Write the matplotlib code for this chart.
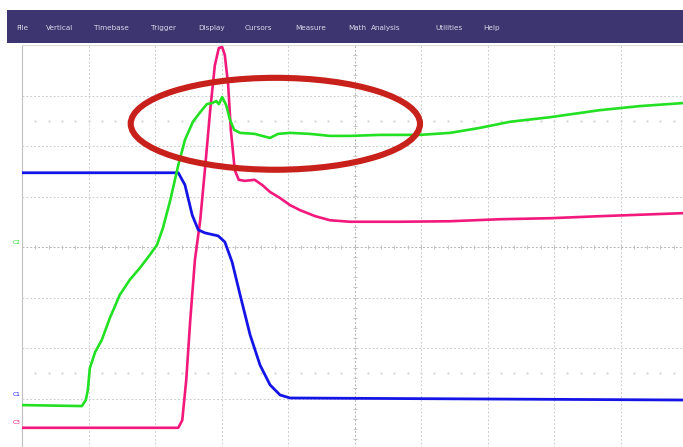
import numpy as np
import matplotlib
matplotlib.use("Agg")
import matplotlib.pyplot as plt
from matplotlib.patches import Rectangle, Ellipse

# ------------------ Scope capture (screen divisions) ------------------
MENU_ITEMS = ["File", "Vertical", "Timebase", "Trigger", "Display", "Cursors",
              "Measure", "Math", "Analysis", "Utilities", "Help"]
MENU_X_PX = [16, 46, 94, 151, 198, 245, 295, 348, 371, 435, 483]

# C1 (blue)
blue_t = [0.00, 2.35, 2.45, 2.56, 2.65, 2.75, 2.95, 3.05, 3.16, 3.28, 3.43,
          3.58, 3.73, 3.88, 4.03, 9.94]
blue_v = [5.47, 5.47, 5.23, 4.63, 4.34, 4.28, 4.22, 4.10, 3.70, 3.05, 2.26,
          1.66, 1.27, 1.07, 1.01, 0.97]

# C2 (green)
green_t = [0.00, 0.90, 0.96, 0.99, 1.02, 1.10, 1.20, 1.32, 1.47, 1.62, 1.77,
           1.92, 2.03, 2.12, 2.23, 2.35, 2.45, 2.57, 2.68, 2.78, 2.86, 2.92,
           2.96, 3.01, 3.07, 3.13, 3.19, 3.28, 3.50, 3.61, 3.73, 3.85, 4.03,
           4.33, 4.63, 4.93, 5.38, 5.98, 6.44, 6.89, 7.34, 7.94, 8.69, 9.29,
           9.94]
green_v = [0.87, 0.85, 0.97, 1.17, 1.60, 1.92, 2.16, 2.59, 3.05, 3.35, 3.58,
           3.84, 4.04, 4.38, 4.93, 5.62, 6.12, 6.48, 6.67, 6.83, 6.85, 6.89,
           6.83, 6.97, 6.81, 6.51, 6.32, 6.26, 6.24, 6.20, 6.16, 6.24, 6.26,
           6.24, 6.20, 6.20, 6.22, 6.22, 6.26, 6.36, 6.48, 6.57, 6.71, 6.79,
           6.85]

# C3 (pink)
pink_t = [0.00, 2.35, 2.41, 2.47, 2.53, 2.60, 2.68, 2.75, 2.83, 2.90, 2.96,
          3.01, 3.05, 3.10, 3.14, 3.20, 3.26, 3.35, 3.50, 3.61, 3.73, 3.88,
          4.03, 4.18, 4.41, 4.63, 4.93, 5.68, 6.44, 7.19, 7.94, 8.69, 9.94]
pink_v = [0.42, 0.42, 0.57, 1.37, 2.55, 3.74, 4.53, 5.52, 6.71, 7.60, 7.94,
          7.96, 7.80, 7.21, 6.32, 5.52, 5.33, 5.31, 5.33, 5.23, 5.09, 4.97,
          4.83, 4.73, 4.61, 4.53, 4.50, 4.50, 4.51, 4.55, 4.57, 4.61, 4.67]

CHANNELS = ["C2", "C1", "C3"]
CHANNEL_LEVELS = [4.08, 1.07, 0.53]

# highlight ring around the settling region
RING_CENTER = (3.81, 6.44)
RING_SIZE = (4.35, 1.82)
# ----------------------------------------------------------------------

W, H = 683, 447
GREEN = "#22e022"
BLUE = "#1414e6"
PINK = "#f2187c"
RED = "#c8201a"
GRID = "#cdcdcd"

fig = plt.figure(figsize=(W / 100, H / 100), dpi=100)
fig.patch.set_facecolor("white")

# menu bar
fig.patches.append(Rectangle((7 / W, 1 - 43 / H), 1 - 7 / W, 33 / H,
                             transform=fig.transFigure, facecolor="#3c356f",
                             edgecolor="none", zorder=0))
for label, px in zip(MENU_ITEMS, MENU_X_PX):
    fig.text(px / W, 1 - 28 / H, label, color="#dcd9ea", fontsize=5.2,
             ha="left", va="center", family="DejaVu Sans")

ax = fig.add_axes([22 / W, -2 / H, 1 - 22 / W, (449 - 45) / H])
ax.set_xlim(0, (W - 22) / 66.5)
ax.set_ylim(0, 8)
ax.set_facecolor("white")
for side in ["right", "bottom"]:
    ax.spines[side].set_visible(False)
ax.spines["left"].set_color("#c0c0c0")
ax.spines["top"].set_color("#dedede")
ax.set_xticks([])
ax.set_yticks([])

# graticule
for gx in range(1, 10):
    ax.axvline(gx, color=GRID if gx != 5 else "#b4b4b4", lw=0.7,
               ls=(0, (2, 2)), zorder=1)
for gy in range(1, 8):
    ax.axhline(gy, color=GRID if gy != 4 else "#b4b4b4", lw=0.7,
               ls=(0, (2, 2)), zorder=1)

# minor ticks along the centre axes
minor_x = np.arange(0.2, 10, 0.2)
minor_y = np.arange(0.2, 8, 0.2)
ax.plot(minor_x, np.full_like(minor_x, 4), ls="none", marker="|",
        ms=2.5, color="#bdbdbd", mew=0.6, zorder=1)
ax.plot(np.full_like(minor_y, 5), minor_y, ls="none", marker="_",
        ms=2.5, color="#bdbdbd", mew=0.6, zorder=1)
for row in (1.5, 6.5):
    ax.plot(minor_x, np.full_like(minor_x, row), ls="none", marker="s",
            ms=0.7, color="#dadada", zorder=1)

# traces
ax.plot(pink_t, pink_v, color=PINK, lw=1.9, zorder=3)
ax.plot(blue_t, blue_v, color=BLUE, lw=2.0, zorder=3)
ax.plot(green_t, green_v, color=GREEN, lw=1.9, zorder=4)

ax.add_patch(Ellipse(RING_CENTER, RING_SIZE[0], RING_SIZE[1], fill=False,
                     edgecolor=RED, lw=4.4, zorder=5))

# channel reference markers
colors = {"C1": BLUE, "C2": GREEN, "C3": PINK}
for name, lvl in zip(CHANNELS, CHANNEL_LEVELS):
    ax.text(-0.03, lvl, name, color=colors[name], fontsize=4.2,
            ha="right", va="center", clip_on=False)

fig.savefig("out.png", dpi=100, facecolor="white")
